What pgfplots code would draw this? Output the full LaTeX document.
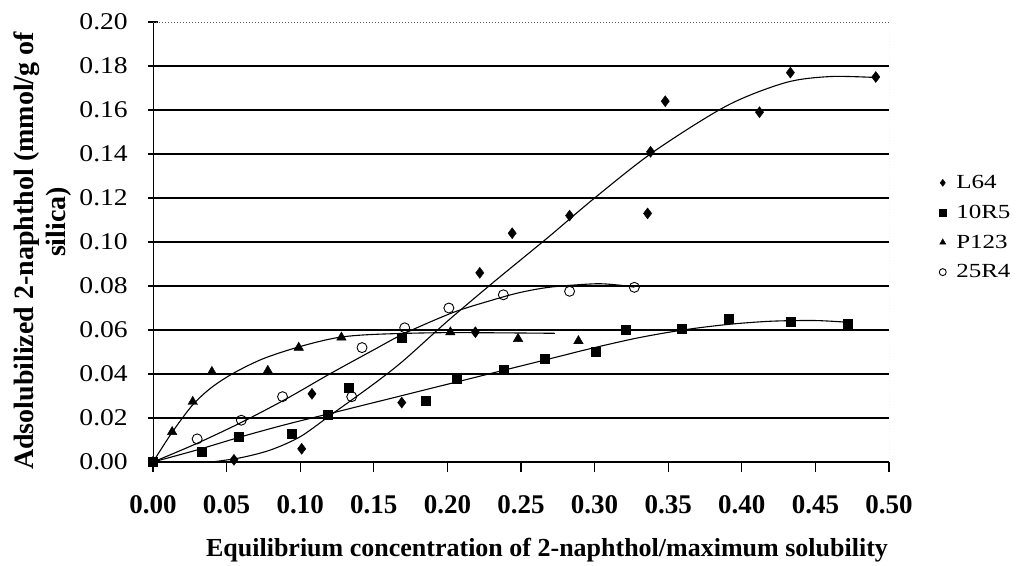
\documentclass[border=0pt]{standalone}
\usepackage{fontspec}
\setmainfont{Liberation Serif}
\newfontfamily\legfont[FakeStretch=1.25]{Liberation Serif}
\newfontfamily\wideserif[FakeStretch=1.15]{Liberation Serif}
\usepackage{pgfplots}
\usepackage{pgfplotstable}
\pgfplotsset{compat=1.18}

% measured adsorption data
\pgfplotstableread{
x y
0.000 0.000
0.055 0.001
0.101 0.006
0.108 0.031
0.169 0.027
0.219 0.059
0.222 0.086
0.244 0.104
0.283 0.112
0.336 0.113
0.338 0.141
0.348 0.164
0.412 0.159
0.433 0.177
0.491 0.175
}\Lsixfour
\pgfplotstableread{
x y
0.000 0.000
0.033 0.0046
0.058 0.0114
0.094 0.013
0.119 0.0215
0.133 0.034
0.169 0.0566
0.185 0.028
0.206 0.038
0.238 0.042
0.266 0.047
0.301 0.050
0.321 0.060
0.359 0.0607
0.391 0.065
0.433 0.064
0.472 0.063
}\Rten
\pgfplotstableread{
x y
0.000 0.000
0.013 0.0137
0.027 0.0274
0.040 0.041
0.078 0.0415
0.099 0.052
0.128 0.0566
0.202 0.059
0.248 0.056
0.289 0.055
}\Ptwenty
\pgfplotstableread{
x y
0.030 0.0105
0.060 0.019
0.088 0.0297
0.135 0.0297
0.142 0.052
0.171 0.061
0.201 0.070
0.238 0.076
0.283 0.0776
0.327 0.0794
}\Rtwentyfive

% trend lines
\pgfplotstableread{
x y
0.040 0.000
0.060 0.002
0.080 0.0055
0.100 0.0115
0.120 0.0210
0.150 0.0355
0.170 0.046
0.200 0.064
0.230 0.081
0.250 0.092
0.270 0.103
0.300 0.120
0.340 0.141
0.390 0.162
0.430 0.1725
0.460 0.1752
0.490 0.1748
}\LsixfourFit
\pgfplotstableread{
x y
0.000 0.000
0.030 0.0055
0.060 0.0115
0.090 0.017
0.120 0.022
0.150 0.027
0.180 0.032
0.210 0.037
0.240 0.042
0.270 0.047
0.300 0.052
0.330 0.0565
0.360 0.060
0.390 0.0625
0.420 0.064
0.450 0.0643
0.472 0.0635
}\RtenFit
\pgfplotstableread{
x y
0.000 0.000
0.013 0.0135
0.027 0.026
0.040 0.034
0.055 0.0405
0.075 0.047
0.100 0.0525
0.125 0.0565
0.150 0.058
0.200 0.0588
0.273 0.0585
}\PtwentyFit
\pgfplotstableread{
x y
0.000 0.000
0.030 0.0085
0.060 0.018
0.090 0.0285
0.120 0.040
0.150 0.051
0.171 0.0585
0.204 0.068
0.230 0.0735
0.249 0.077
0.270 0.0795
0.300 0.0810
0.315 0.0805
0.327 0.0795
}\RtwentyfiveFit

\begin{document}
\begin{tikzpicture}[x=1pt,y=1pt]
\useasboundingbox (0,0) rectangle (1024,-565);
\begin{axis}[
  at={(153pt,-462pt)}, anchor=south west,
  scale only axis, width=736pt, height=440pt,
  xmin=0, xmax=0.5, ymin=0, ymax=0.2,
  axis line style={draw=none},
  xtick={0,0.05,0.10,0.15,0.20,0.25,0.30,0.35,0.40,0.45,0.50},
  ytick={0,0.02,0.04,0.06,0.08,0.10,0.12,0.14,0.16,0.18,0.20},
  extra y ticks={0.02,0.04,0.06,0.08,0.10,0.12,0.14,0.16,0.18},
  extra y tick labels={},
  extra y tick style={grid=major},
  major grid style={black, line width=1.1pt},
  xtick pos=bottom, ytick pos=left,
  xtick align=outside, ytick align=center, major tick length=10pt,
  every tick/.style={black, line width=1.1pt},
  /pgf/number format/assume math mode=true,
  /pgf/number format/.cd, fixed, fixed zerofill, precision=2, /pgfplots/.cd,
  xticklabel style={font=\bfseries\fontsize{27}{27}\selectfont, anchor=base, inner sep=0pt, yshift=-41pt},
  yticklabel style={font=\wideserif\fontsize{24}{24}\selectfont, anchor=east, inner sep=0pt, xshift=-20pt},
  legend style={at={(axis description cs:1.068,0.533)}, anchor=west, draw=none, fill=none,
    inner sep=0pt, font=\legfont\fontsize{20}{20}\selectfont, row sep=11pt,
    /tikz/every odd column/.append style={column sep=8pt}},
  legend cell align=left,
  legend image code/.code={\draw[#1, mark size=3.5pt] plot coordinates {(0pt,0pt)};},
]
\addplot[only marks, mark=diamond*, mark size=5.5pt, black] table {\Lsixfour};
\addplot[only marks, mark=square*, mark size=4.5pt, black] table {\Rten};
\addplot[only marks, mark=triangle*, mark size=5.5pt, black] table {\Ptwenty};
\addplot[only marks, mark=o, mark size=5pt, black, line width=0.9pt] table {\Rtwentyfive};
\legend{L64, 10R5, P123, 25R4}

\addplot[smooth, tension=0.5, black, line width=1.1pt, forget plot] table {\LsixfourFit};
\addplot[smooth, tension=0.5, black, line width=1.1pt, forget plot] table {\RtenFit};
\addplot[smooth, tension=0.5, black, line width=1.1pt, forget plot] table {\PtwentyFit};
\addplot[smooth, tension=0.5, black, line width=1.1pt, forget plot] table {\RtwentyfiveFit};

% frame: solid left and bottom, dotted top and right
\draw[black, line width=1.3pt] (rel axis cs:0,1) -- (rel axis cs:0,0) -- (rel axis cs:1,0);
\draw[gray!70!black, line width=1pt, dotted] (rel axis cs:0,1) -- (rel axis cs:1,1);
\draw[gray!60, line width=1pt, dotted] (rel axis cs:1,0) -- (rel axis cs:1,1);
\end{axis}
\node[font=\bfseries\fontsize{26}{26}\selectfont, anchor=base] at (547,-556)
  {Equilibrium concentration of 2-naphthol/maximum solubility};
\node[font=\bfseries\fontsize{28}{28}\selectfont, anchor=base, rotate=90] at (33,-251)
  {Adsolubilized 2-naphthol (mmol/g of};
\node[font=\bfseries\fontsize{28}{28}\selectfont, anchor=base, rotate=90] at (65,-222)
  {silica)};
\end{tikzpicture}
\end{document}
